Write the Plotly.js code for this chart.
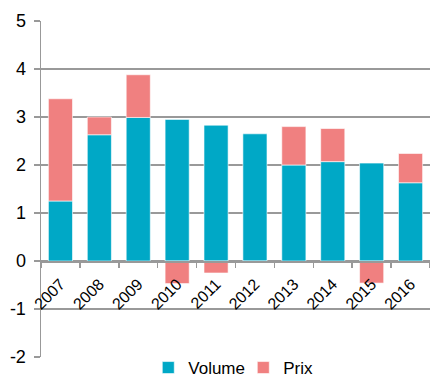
<!DOCTYPE html>
<html><head><meta charset="utf-8">
<script src="https://cdn.plot.ly/plotly-3.0.1.min.js"></script>
<style>html,body{margin:0;padding:0;background:#fff}#chart{width:430px;height:386px}</style>
</head><body><div id="chart"></div>
<script>
var years = ['2007','2008','2009','2010','2011','2012','2013','2014','2015','2016'];
var volume = [1.25, 2.63, 2.99, 2.95, 2.83, 2.65, 2.00, 2.07, 2.04, 1.63];
var prix = [2.13, 0.37, 0.89, -0.47, -0.25, -0.03, 0.80, 0.69, -0.46, 0.61];
var yTickVals = [-2, -1, 0, 1, 2, 3, 4, 5];
var yTickText = ['-2', '-1', '0', '1', '2', '3', '4', '5'];

var font = {family: 'Liberation Sans, Arial, sans-serif', size: 17, color: '#000'};
var traces = [
  {type: 'bar', name: 'Volume', x: years, y: volume, marker: {color: '#00A8C6', line: {color: 'rgba(255,255,255,0.6)', width: 1}}},
  {type: 'bar', name: 'Prix', x: years, y: prix, marker: {color: '#F08080', line: {color: 'rgba(255,255,255,0.6)', width: 1}}}
];
var layout = {
  width: 430, height: 386,
  margin: {l: 41, r: 0, t: 21, b: 29, pad: 0, autoexpand: false},
  barmode: 'relative',
  bargap: 0.38,
  paper_bgcolor: '#fff', plot_bgcolor: '#fff',
  font: font,
  showlegend: true,
  legend: {orientation: 'h', x: 0.52, xanchor: 'center', xref: 'paper', yref: 'container', y: 0, yanchor: 'bottom', font: font, itemwidth: 30, tracegroupgap: 0, entrywidth: 50},
  xaxis: {
    type: 'category', anchor: 'free', position: 96/336,
    showline: true, linecolor: '#999', linewidth: 1.5,
    ticks: 'outside', ticklen: 5, tickcolor: '#999', tickwidth: 1.5,
    tickson: 'boundaries', tickangle: -45, ticklabelstandoff: 6,
    tickfont: {family: 'Liberation Sans, Arial, sans-serif', size: 16, color: '#000'},
    showgrid: false, zeroline: false, fixedrange: true, automargin: false
  },
  yaxis: {
    range: [-2, 5], tickmode: 'array', tickvals: yTickVals, ticktext: yTickText,
    showline: true, linecolor: '#999', linewidth: 1.5,
    ticks: 'outside', ticklen: 6, tickcolor: '#999', tickwidth: 1.5,
    showgrid: true, gridcolor: '#999', gridwidth: 1.5,
    zeroline: true, zerolinecolor: '#999', zerolinewidth: 1.5,
    tickfont: {family: 'Liberation Sans, Arial, sans-serif', size: 18, color: '#000'},
    ticklabelstandoff: 4, automargin: false
  }
};
Plotly.newPlot('chart', traces, layout, {staticPlot: true, displayModeBar: false});
</script></body></html>
